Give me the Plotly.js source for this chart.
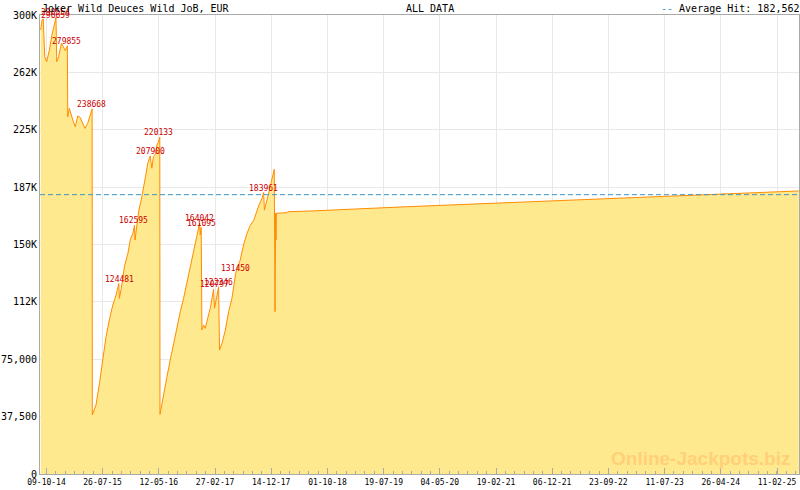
<!DOCTYPE html>
<html>
<head>
<meta charset="utf-8">
<script src="https://cdn.plot.ly/plotly-3.0.1.min.js"></script>
<style>html,body{margin:0;padding:0;background:#fff;}#chart{width:800px;height:490px;}</style>
</head>
<body>
<div id="chart"></div>
<script>
var dates = ['2014-09-09','2014-09-16','2014-09-22','2014-09-30','2014-10-10','2014-10-24','2014-11-06','2014-11-18','2014-11-24','2014-11-27',
'2014-12-01','2014-12-11','2014-12-25','2015-01-04','2015-01-14','2015-01-25','2015-01-27','2015-02-04','2015-02-13','2015-02-22',
'2015-03-07','2015-03-20','2015-04-01','2015-04-15','2015-04-26','2015-05-10','2015-05-19','2015-06-02','2015-06-03','2015-06-22',
'2015-07-10','2015-07-27','2015-08-13','2015-08-30','2015-09-17','2015-10-04','2015-10-18','2015-10-21','2015-10-31','2015-11-16',
'2015-12-04','2015-12-17','2015-12-30','2016-01-07','2016-01-10','2016-01-19','2016-01-30','2016-02-11','2016-02-19','2016-03-04',
'2016-03-16','2016-03-28','2016-04-06','2016-04-14','2016-04-25','2016-05-02','2016-05-10','2016-05-17','2016-05-18','2016-06-05',
'2016-06-23','2016-07-10','2016-07-27','2016-08-13','2016-08-31','2016-09-17','2016-10-04','2016-10-21','2016-11-07','2016-11-25',
'2016-12-05','2016-12-09','2016-12-12','2016-12-17','2016-12-21','2016-12-29','2017-01-07','2017-01-16','2017-01-24','2017-02-02',
'2017-02-11','2017-02-19','2017-02-24','2017-03-03','2017-03-10','2017-03-17','2017-03-22','2017-04-04','2017-04-21','2017-05-08',
'2017-05-25','2017-06-06','2017-06-14','2017-07-07','2017-07-24','2017-08-11','2017-08-28','2017-09-14','2017-09-28','2017-10-12',
'2017-10-28','2017-11-05','2017-11-09','2017-11-19','2017-12-01','2017-12-13','2017-12-24','2017-12-30','2018-01-03','2018-01-06',
'2018-01-08','2018-01-10','2018-03-06','2018-03-09','2018-07-09','2019-10-11','2021-03-11','2022-08-11','2024-01-10','2025-06-04'];

var jackpot = [290200,296700,297500,272700,269500,277100,286900,292400,296659,298554,
269500,272700,281500,279300,276700,279855,233500,239000,234600,231400,
227000,234000,233100,229200,225900,229200,232500,238668,38600,45100,
59300,74500,89800,100700,110500,117000,124481,114800,121400,135500,
144200,153400,157300,162595,152900,162100,172500,179100,185600,194300,
203100,207900,199800,207400,209200,215000,217000,220133,39000,52700,
63600,74500,85400,96300,106100,114800,124600,134400,145300,155100,
161600,164042,156200,161095,94100,97400,95200,100700,103900,108300,
113700,120797,108300,113700,119200,122346,81000,85400,94100,106100,
114800,123500,131450,139900,149700,157300,162500,165600,170800,175800,
180200,183961,172500,176900,183500,190000,195400,199200,106100,170400,
152900,170400,170800,171400,171900,174500,177100,179700,182400,185000];

var hitDates = ['2014-11-25','2014-11-25','2015-01-20','2015-05-31','2015-10-20','2016-01-04','2016-04-01','2016-05-11','2016-12-07','2016-12-17','2017-02-23','2017-03-19','2017-06-11','2017-11-03'];
var hitValues = [298554,296659,279855,238668,124481,162595,207900,220133,164042,161095,120797,122346,131450,183961];

var averageHit = 182562;

var xTickVals = ['2014-10-09','2015-07-26','2016-05-12','2017-02-27','2017-12-14','2018-10-01','2019-07-19','2020-05-04','2021-02-19','2021-12-06','2022-09-23','2023-07-11','2024-04-26','2025-02-11'];
var xTickText = ['09-10-14','26-07-15','12-05-16','27-02-17','14-12-17','01-10-18','19-07-19','04-05-20','19-02-21','06-12-21','23-09-22','11-07-23','26-04-24','11-02-25'];
var yTickVals = [0,37500,75000,112500,150000,187500,225000,262500,300000];
var yTickText = ['0','37,500','75,000','112K','150K','187K','225K','262K','300K'];

var titleText = 'Joker Wild Deuces Wild JoB, EUR';
var subTitle = 'ALL DATA';
var avgText = 'Average Hit: 182,562';
var watermark = 'Online-Jackpots.biz';

var MONO = 'DejaVu Sans Mono, monospace';

var trace = {
  x: dates, y: jackpot, type: 'scatter', mode: 'lines',
  line: {color: '#FF8C00', width: 1},
  fill: 'tozeroy', fillcolor: '#FFE98F',
  hoverinfo: 'x+y'
};

var annotations = [];
for (var i = 0; i < hitDates.length; i++) {
  annotations.push({
    x: hitDates[i], y: hitValues[i], xref: 'x', yref: 'y',
    text: String(hitValues[i]), showarrow: false,
    xanchor: 'center', yanchor: 'bottom', yshift: -2,
    font: {family: MONO, size: 8, color: '#CC0000'}
  });
}
annotations.push({
  xref: 'paper', yref: 'paper', x: 0, y: 1, xanchor: 'left', yanchor: 'bottom', yshift: -1,
  text: titleText, showarrow: false, font: {family: MONO, size: 10, color: '#000'}
});
annotations.push({
  xref: 'paper', yref: 'paper', x: 0.514, y: 1, xanchor: 'center', yanchor: 'bottom', yshift: -1,
  text: subTitle, showarrow: false, font: {family: MONO, size: 10, color: '#000'}
});
annotations.push({
  xref: 'paper', yref: 'paper', x: 1, y: 1, xanchor: 'right', yanchor: 'bottom', yshift: -1, xshift: 2,
  text: '<span style="color:#3A96C8">--</span> ' + avgText, showarrow: false,
  font: {family: MONO, size: 10, color: '#000'}
});
annotations.push({
  xref: 'paper', yref: 'paper', x: 0.87, y: 0.033, xanchor: 'center', yanchor: 'middle',
  text: '<b>' + watermark + '</b>', showarrow: false,
  font: {family: 'Liberation Sans, Arial, sans-serif', size: 19, color: 'rgb(255,208,120)'}
});

var layout = {
  width: 800, height: 490,
  margin: {l: 40, r: 1, t: 15, b: 16, pad: 0},
  paper_bgcolor: '#FFFFFF', plot_bgcolor: '#FFFFFF',
  showlegend: false,
  xaxis: {
    type: 'date', range: ['2014-09-05 10:00', '2025-06-04 19:00'],
    tickmode: 'array', tickvals: xTickVals, ticktext: xTickText,
    ticks: 'inside', ticklen: 6, tickcolor: '#AAAAAA', tickwidth: 1,
    showgrid: true, gridcolor: '#E8E8E8', gridwidth: 1,
    showline: true, linecolor: '#AAAAAA', linewidth: 1, mirror: true,
    zeroline: false,
    tickfont: {family: MONO, size: 8, color: '#000'},
    minor: {ticks: 'inside', ticklen: 3, tickcolor: '#AAAAAA', tickwidth: 1,
            tickmode: 'linear', tick0: '2014-10-09', dtick: 4184640000, showgrid: false},
    fixedrange: true
  },
  yaxis: {
    range: [0, 300000],
    tickmode: 'array', tickvals: yTickVals, ticktext: yTickText,
    ticks: '', showgrid: true, gridcolor: '#E8E8E8', gridwidth: 1,
    showline: true, linecolor: '#AAAAAA', linewidth: 1, mirror: true,
    zeroline: false,
    tickfont: {family: MONO, size: 10, color: '#000'},
    fixedrange: true
  },
  shapes: [{
    type: 'line', xref: 'paper', yref: 'y', x0: 0, x1: 1, y0: averageHit, y1: averageHit,
    line: {color: '#3A96C8', width: 1, dash: '5px,3px'}, layer: 'above'
  }],
  annotations: annotations
};

Plotly.newPlot('chart', [trace], layout, {displayModeBar: false, staticPlot: true});
</script>
</body>
</html>
